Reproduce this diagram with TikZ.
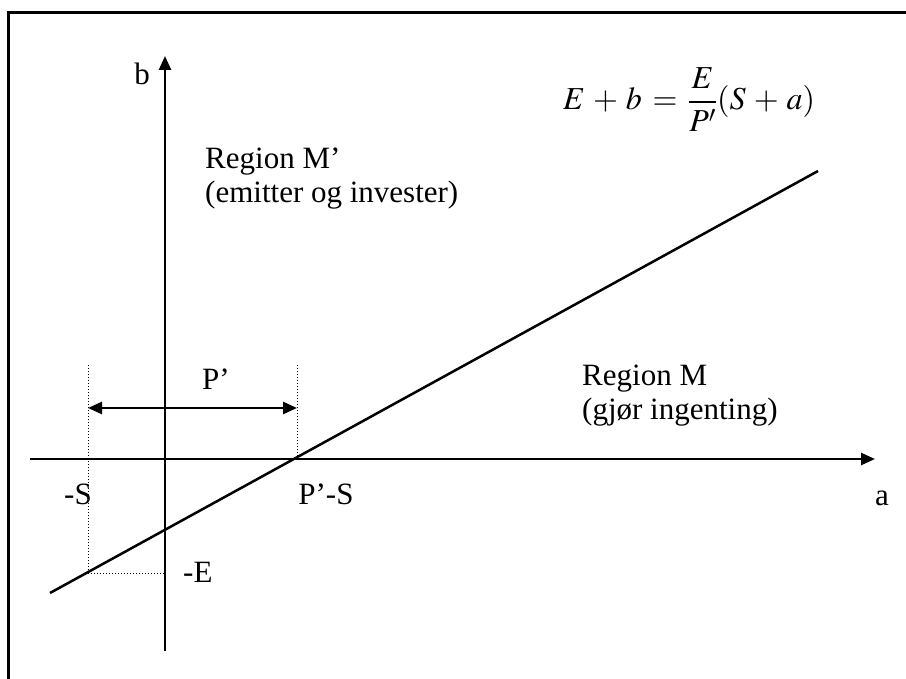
\documentclass[tikz,border=0pt]{standalone}
\usepackage{mathptmx}
\usepackage[no-math]{fontspec}
\setmainfont{Liberation Serif}
\usetikzlibrary{arrows.meta}
\tikzset{
  axisline/.style={line width=2.5pt, -{Triangle[length=14pt,width=12pt]}},
  helper/.style={line width=1pt, dotted},
  lbl/.style={font=\fontsize{31}{34}\selectfont, inner sep=0pt},
}

\begin{document}
\begin{tikzpicture}[x=1pt, y=-1pt]
  \useasboundingbox (0,0) rectangle (906,679);
  \clip (0,0) rectangle (906,679);
  \draw[line width=3pt] (8,13) rectangle (940,720);

  % axes
  \coordinate (xstart) at (30,459);
  \coordinate (xend) at (875,459);
  \coordinate (ystart) at (165,651);
  \coordinate (yend) at (165,56);
  \draw[axisline] (xstart) -- (xend);
  \draw[axisline] (ystart) -- (yend);

  % the line E+b = E/P'(S+a)
  \coordinate (lstart) at (50,593);
  \coordinate (lend) at (818,171);
  \coordinate (mS) at (88,573);
  \coordinate (mE) at (165,573);
  \coordinate (PS) at (297,459);
  \draw[line width=2.5pt] (lstart) -- (lend);

  % helper lines and the P' span
  \coordinate (mStop) at (88,364);
  \coordinate (PStop) at (297,364);
  \coordinate (arrL) at (88,408);
  \coordinate (arrR) at (297,408);
  \draw[helper] (mS) -- (mStop);
  \draw[helper] (PS) -- (PStop);
  \draw[helper] (mS) -- (mE);
  \draw[line width=2.5pt, {Triangle[length=14pt,width=12pt]}-{Triangle[length=14pt,width=12pt]}] (arrL) -- (arrR);

  % labels
  \node[lbl, anchor=base] (blbl) at (142,85) {b};
  \node[lbl, anchor=base] (albl) at (882,505) {a};
  \node[lbl, anchor=base] (Slbl) at (78,504) {-S};
  \node[lbl, anchor=base] (PSlbl) at (326,504) {P’-S};
  \node[lbl, anchor=base west] (Elbl) at (183,582) {-E};
  \node[lbl, anchor=base] (Plbl) at (216,390) {P’};
  \node[lbl, font=\fontsize{32}{36}\selectfont, anchor=base west] (eq) at (563,110)
    {$E\,+\,b\,=\,{\displaystyle\frac{E}{P'}}(S\,+\,a)$};
  % base of a two-line node is the last line
  \node[lbl, anchor=base west, align=left] (regMp) at (205,203) {Region M’\\(emitter og invester)};
  \node[lbl, anchor=base west, align=left] (regM) at (582,419) {Region M\\(gjør ingenting)};
\end{tikzpicture}
\end{document}
